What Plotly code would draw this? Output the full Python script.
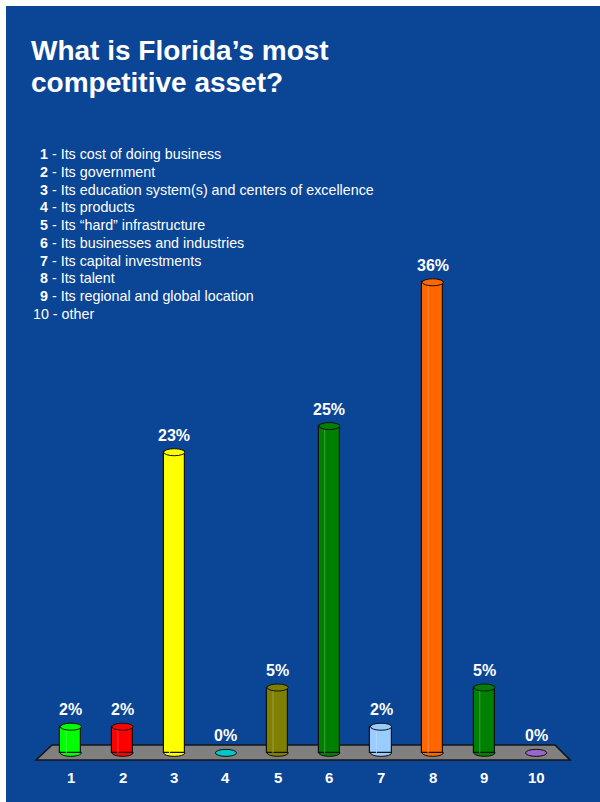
import plotly.graph_objects as go

# Survey answers: share of respondents per option
categories = [1, 2, 3, 4, 5, 6, 7, 8, 9, 10]
values = [2, 2, 23, 0, 5, 25, 2, 36, 5, 0]
value_labels = ["2%", "2%", "23%", "0%", "5%", "25%", "2%", "36%", "5%", "0%"]
tick_labels = ["1", "2", "3", "4", "5", "6", "7", "8", "9", "10"]
options = [
    "Its cost of doing business",
    "Its government",
    "Its education system(s) and centers of excellence",
    "Its products",
    "Its \u201chard\u201d infrastructure",
    "Its businesses and industries",
    "Its capital investments",
    "Its talent",
    "Its regional and global location",
    "other",
]
colors = ["#00FF00", "#FF0000", "#FFFF00", "#00C8C8", "#808000",
          "#008000", "#99CCFF", "#FF6600", "#008000", "#9966CC"]
title_lines = ["What is Florida\u2019s most", "competitive asset?"]

FONT = "Liberation Sans, Arial, sans-serif"
BLUE = "#0B4595"

# page / plot-area geometry in pixels
PW, PH = 600, 802
L, R, T, B = 45, 562, 230, 779
W, H = R - L, B - T
Y0, Y1 = -2, 40
px_per_unit = H / (Y1 - Y0)


def px(x):
    return (x - L) / W


def py(y):
    return (B - y) / H


def lighten(hex_color, f):
    h = hex_color.lstrip("#")
    r, g, b = (int(h[i:i + 2], 16) for i in (0, 2, 4))
    r, g, b = (int(c + (255 - c) * f) for c in (r, g, b))
    return f"rgb({r},{g},{b})"


bar_w = 0.41
cap_d = 3.5 / px_per_unit

shapes = []
# blue slide background
shapes.append(dict(type="rect", xref="paper", yref="paper",
                   x0=px(6), x1=px(PW + 2), y0=py(6), y1=py(PH + 2),
                   fillcolor=BLUE, line=dict(width=0), layer="below"))
# grey floor under the columns
shapes.append(dict(type="path", xref="paper", yref="paper",
                   path=(f"M {px(36)} {py(760)} L {px(52)} {py(745)} "
                         f"L {px(555)} {py(745)} L {px(570)} {py(760)} Z"),
                   fillcolor="#808080", line=dict(color="#141414", width=1.6),
                   layer="below"))
# rounded bottoms of the cylinders
for c, v, col in zip(categories, values, colors):
    shapes.append(dict(type="circle", xref="x", yref="y",
                       x0=c - bar_w / 2, x1=c + bar_w / 2,
                       y0=-cap_d, y1=cap_d,
                       fillcolor=col, line=dict(color="#111111", width=1),
                       layer="below"))
# highlight stripe and top caps
for c, v, col in zip(categories, values, colors):
    if v <= 0:
        continue
    shapes.append(dict(type="line", xref="x", yref="y",
                       x0=c - bar_w * 0.22, x1=c - bar_w * 0.22,
                       y0=0, y1=v,
                       line=dict(color=lighten(col, 0.25), width=1),
                       layer="above"))
    shapes.append(dict(type="circle", xref="x", yref="y",
                       x0=c - bar_w / 2, x1=c + bar_w / 2,
                       y0=v - cap_d, y1=v + cap_d,
                       fillcolor=col, line=dict(color="#111111", width=1),
                       layer="above"))

fig = go.Figure()
fig.add_trace(go.Bar(
    x=categories, y=values, width=bar_w,
    marker=dict(color=colors,
                line=dict(color="#111111",
                          width=[1.2 if v > 0 else 0 for v in values])),
    hoverinfo="skip", showlegend=False,
))

annotations = []
# title
for i, line in enumerate(title_lines):
    annotations.append(dict(xref="paper", yref="paper", x=px(29), y=py(50 + 33 * i),
                            xanchor="left", yanchor="middle", showarrow=False,
                            text=f"<b>{line}</b>",
                            font=dict(family=FONT, size=28, color="white")))
# numbered key of the answer options
for i, (lab, opt) in enumerate(zip(tick_labels, options)):
    yy = 154 + 17.78 * i
    if lab == "10":
        txt, x = f"{lab} - {opt}", 31
    else:
        txt, x = f"<b>{lab}</b> - {opt}", 38
    annotations.append(dict(xref="paper", yref="paper", x=px(x), y=py(yy),
                            xanchor="left", yanchor="middle", showarrow=False,
                            text=txt,
                            font=dict(family=FONT, size=14.3, color="white")))
# value labels above the columns
for c, v, t in zip(categories, values, value_labels):
    annotations.append(dict(xref="x", yref="y", x=c, y=v, yshift=17,
                            xanchor="center", yanchor="middle", showarrow=False,
                            text=f"<b>{t}</b>",
                            font=dict(family=FONT, size=16, color="white")))
# category numbers under the floor
for c, t in zip(categories, tick_labels):
    annotations.append(dict(xref="x", yref="paper", x=c, y=py(777),
                            xanchor="center", yanchor="middle", showarrow=False,
                            text=f"<b>{t}</b>",
                            font=dict(family=FONT, size=15, color="white")))

fig.update_layout(
    width=PW, height=PH,
    margin=dict(l=L, r=PW - R, t=T, b=PH - B, pad=0),
    paper_bgcolor="white", plot_bgcolor="rgba(0,0,0,0)",
    xaxis=dict(range=[0.5, 10.5], visible=False, fixedrange=True),
    yaxis=dict(range=[Y0, Y1], visible=False, fixedrange=True),
    bargap=0, shapes=shapes, annotations=annotations,
    font=dict(family=FONT),
)

fig.write_html("out.html", config={"displayModeBar": False})
